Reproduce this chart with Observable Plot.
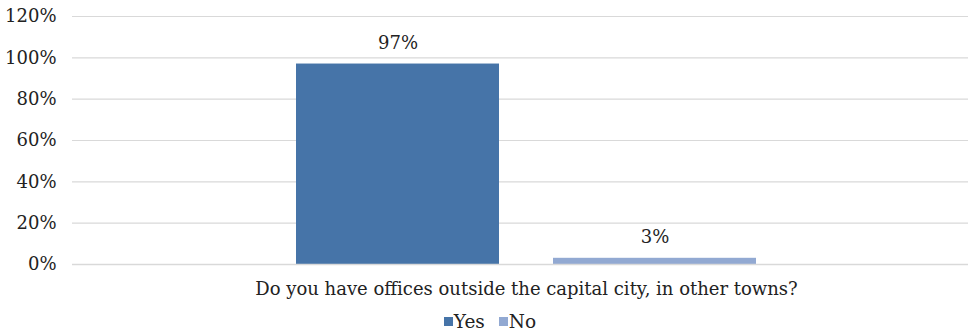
<!DOCTYPE html>
<html>
<head>
<meta charset="utf-8">
<script src="https://cdn.jsdelivr.net/npm/d3@7"></script>
<script src="https://cdn.jsdelivr.net/npm/@observablehq/plot@0.6"></script>
<style>
  body { margin: 0; background: #fff; }
  #chart { width: 968px; }
  #chart svg, #chart svg text { font-family: "DejaVu Serif", serif !important; }
  .lg-swatches { justify-content: center; margin: 0 !important; padding-left: 26px; font-family: "DejaVu Serif", serif !important; font-size: 18.5px; color: #222; height: 26px; }
  .lg-swatch { margin-right: 14px !important; }
  .lg-swatch svg { margin-right: 1px !important; }
</style>
</head>
<body>
<div id="chart"></div>
<script>
const question = ["Do you have offices outside the capital city, in other towns?"];
const answers = ["Yes", "No"];
const shares = [0.97, 0.03];
const labels = ["97%", "3%"];
const yTicks = [0, 0.2, 0.4, 0.6, 0.8, 1.0, 1.2];
const colors = ["#4674a8", "#92a9d2"];

const data = answers.map((a, i) => ({question: question[0], answer: a, value: shares[i], label: labels[i]}));

const plot = Plot.plot({
  width: 968,
  height: 305,
  marginTop: 16,
  marginBottom: 41,
  marginLeft: 72,
  marginRight: 0,
  style: {fontSize: "18px", color: "#222", background: "#fff"},
  fx: {domain: question, range: [72, 980], padding: 0, label: null},
  x: {domain: answers, range: [295, 757], paddingInner: 0.2093, paddingOuter: 0, axis: null},
  y: {domain: [0, 1.2], ticks: yTicks, tickFormat: d => Math.round(d * 100) + "%", label: null, tickSize: 0, tickPadding: 16},
  color: {domain: answers, range: colors},
  marks: [
    Plot.ruleY(yTicks, {stroke: "#d9d9d9", strokeWidth: 1.2}),
    Plot.barY(data, {fx: "question", x: "answer", y: "value", fill: "answer"}),
    Plot.text(data, {fx: "question", x: "answer", y: "value", text: "label", dy: -21, fill: "#222", fontSize: 18}),
    Plot.axisFx({anchor: "bottom", tickSize: 0, tickPadding: 18, fontSize: 18, label: null}),
    Plot.ruleY([0], {stroke: "#d9d9d9", strokeWidth: 1.5})
  ]
});

document.getElementById("chart").appendChild(plot);
const legend = Plot.legend({color: {domain: answers, range: colors}, legend: "swatches", swatchSize: 9, className: "lg"});
document.getElementById("chart").appendChild(legend);
</script>
</body>
</html>
